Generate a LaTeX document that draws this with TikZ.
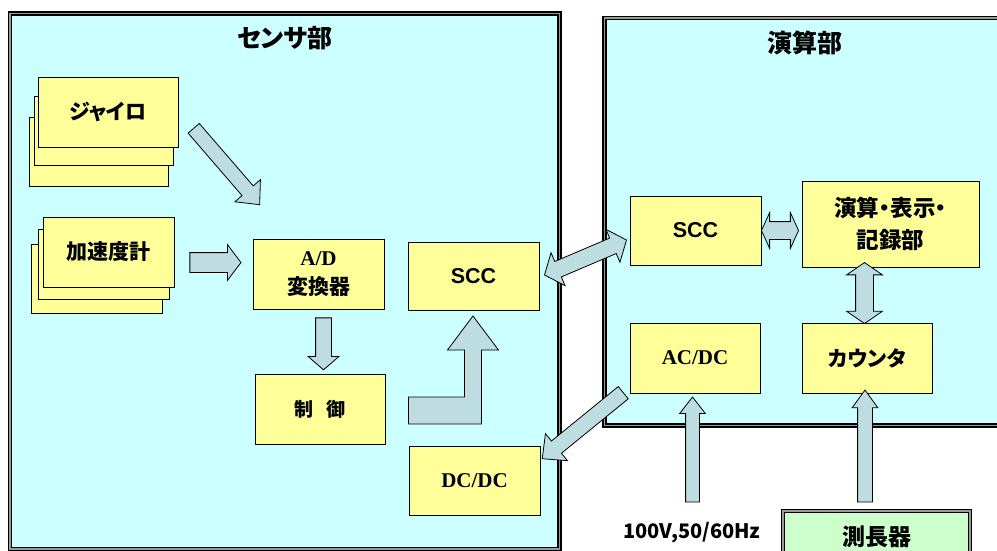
\documentclass[tikz,border=0pt]{standalone}
\usepackage{fontspec}
\setmainfont{Liberation Serif}
\setsansfont{Liberation Sans}
\newfontfamily\jpfont{Noto Sans CJK JP}[RawFeature=+palt]
\usetikzlibrary{calc, shapes.arrows}
\definecolor{unitcyan}{HTML}{CCFFFF}
\definecolor{boxyellow}{HTML}{FFFF99}
\definecolor{arrowblue}{HTML}{BEDDE1}
\definecolor{probegreen}{HTML}{CCFFCC}

\tikzset{
  unit/.style={draw=black, line width=1.7pt, double=gray!80, double distance=1.1pt},
  jp/.style={font=\jpfont\bfseries\fontsize{21}{29}\selectfont},
  title/.style={font=\jpfont\bfseries\fontsize{25}{30}\selectfont},
  block/.style={draw=black, line width=0.9pt, fill=boxyellow, jp,
    minimum width=131pt, minimum height=70pt, inner sep=0pt, align=center},
  fatarrow/.style={single arrow, draw=black, line width=0.8pt, fill=arrowblue,
    inner xsep=0pt, single arrow head indent=0pt, sloped, allow upside down},
  twinarrow/.style={double arrow, draw=black, line width=0.8pt, fill=arrowblue,
    inner xsep=0pt, double arrow head indent=0pt, sloped, allow upside down}
}

% block arrow from #2 (tail) to #3 (tip)
\newcommand{\fatarrow}[3][]{%
  \path let \p1=($(#3)-(#2)$), \n1={veclen(\x1,\y1)} in
    (#2) -- (#3) node[fatarrow, pos=0, anchor=tail, minimum height=\n1, #1] {};}
% block arrow with heads at both ends
\newcommand{\twinarrow}[3][]{%
  \path let \p1=($(#3)-(#2)$), \n1={veclen(\x1,\y1)} in
    (#2) -- (#3) node[twinarrow, midway, minimum height=\n1, #1] {};}

\begin{document}
\begin{tikzpicture}[x=1pt, y=-1pt]
  \useasboundingbox (0,0) rectangle (997,551);
  \clip (0,0) rectangle (997,551);

  % the two units and the length gauge
  \draw[unit, fill=unitcyan] (10,13.5) rectangle (559.5,549);
  \draw[unit, fill=unitcyan] (604.5,18) rectangle (1010,425.5);
  \draw[unit, fill=probegreen] (783,511) rectangle (970,580);
  \node[title] (sensor) at (285,38) {センサ部};
  \node[title] (calcunit) at (805,43) {演算部};

  % sensors (three of each)
  \node[block, minimum width=139pt, minimum height=69pt] (gyro3) at (98.5,151.5) {};
  \node[block, minimum width=139pt, minimum height=69pt] (gyro2) at (103.5,131) {};
  \node[block, minimum width=140pt] (gyro) at (108,112) {ジャイロ};
  \node[block, minimum height=69pt] (acc3) at (96.5,278.5) {};
  \node[block] (acc2) at (103.5,264) {};
  \node[block] (acc) at (108.5,252) {加速度計};

  \node[block] (ad) at (318.5,274) {{\rmfamily A/D}\\変換器};
  \node[block, minimum width=130pt] (ctrl) at (320,409)
    {\fontsize{19}{23}\selectfont 制\hspace{0.7em}御};
  \node[block, minimum height=68pt] (sccL) at (473.5,276) {\sffamily\fontsize{21.5}{25}\selectfont SCC};
  \node[block, minimum height=69pt] (dcdc) at (474.5,480.5) {\rmfamily DC/DC};

  \node[block, minimum height=69pt] (sccR) at (695.5,230.5) {\sffamily\fontsize{21.5}{25}\selectfont SCC};
  \node[block, minimum width=177pt, minimum height=86pt, font=\jpfont\bfseries\fontsize{22.5}{32}\selectfont]
    (calc) at (890.5,224) {演算・表示・\\記録部};
  \node[block, minimum width=130pt] (acdc) at (695,358) {\rmfamily AC/DC};
  \node[block, minimum width=130pt] (counter) at (867,358) {カウンタ};

  \node[jp, font=\jpfont\bfseries\fontsize{20}{24}\selectfont] (supply) at (692,533) {100V,50/60Hz};
  \node[title, font=\jpfont\bfseries\fontsize{23}{28}\selectfont] (gauge) at (877,537) {測長器};

  % arrow ends
  \coordinate (g1) at ($(gyro.east)+(15,16)$);
  \coordinate (g2) at ($(ad.north west)+(7,-34)$);
  \coordinate (a1) at ($(acc.east)+(15,10.5)$);
  \coordinate (a2) at ($(ad.west)+(-12,-11.5)$);
  \coordinate (d1) at ($(ad.south)+(5,8)$);
  \coordinate (d2) at ($(ad.south)+(5,60)$);
  \coordinate (s1) at ($(sccL.east)+(5,-1)$);
  \coordinate (s2) at ($(sccR.west)+(-3,9.5)$);
  \coordinate (r1) at (sccR.east);
  \coordinate (r2) at ($(sccR.east -| calc.west)+(-3,0)$);
  \coordinate (c1) at ($(counter.north)+(-2.5,-60)$);
  \coordinate (c2) at ($(counter.north)+(-2.5,1)$);
  \coordinate (p1) at ($(acdc.south west)+(-6,-1)$);
  \coordinate (p2) at ($(dcdc.north east)+(2,13)$);
  \coordinate (v1) at ($(acdc.south)+(-2.5,109)$);
  \coordinate (v2) at ($(acdc.south)+(-2.5,4)$);
  \coordinate (m1) at ($(counter.south)+(-2,109)$);
  \coordinate (m2) at ($(counter.south)+(-2,-3)$);

  \fatarrow[inner ysep=7pt, single arrow head extend=9.5pt, single arrow tip angle=85]{g1}{g2}
  \fatarrow[inner ysep=9.5pt, single arrow head extend=8pt, single arrow tip angle=106]{a1}{a2}
  \fatarrow[inner ysep=7.5pt, single arrow head extend=7.5pt, single arrow tip angle=98]{d1}{d2}
  \fatarrow[inner ysep=7.5pt, single arrow head extend=9.5pt, single arrow tip angle=87]{p1}{p2}
  \fatarrow[inner ysep=6.5pt, single arrow head extend=6pt, single arrow tip angle=76]{v1}{v2}
  \fatarrow[inner ysep=7pt, single arrow head extend=5.5pt, single arrow tip angle=72]{m1}{m2}
  \twinarrow[inner ysep=8pt, double arrow head extend=9.5pt, double arrow tip angle=101]{s1}{s2}
  \twinarrow[inner ysep=8.5pt, double arrow head extend=9pt, double arrow tip angle=131]{r1}{r2}
  \twinarrow[inner ysep=8.5pt, double arrow head extend=9pt, double arrow tip angle=111]{c1}{c2}

  % bent arrow from the controller up to SCC
  \draw[draw=black, line width=0.8pt, fill=arrowblue]
    ($(ctrl.east)+(23,-12)$) -- ++(56,0) -- ++(0,-47) -- ++(-17,0) -- ++(25.5,-34)
    -- ++(25.5,34) -- ++(-17,0) -- ++(0,74) -- ++(-73,0) -- cycle;
\end{tikzpicture}
\end{document}
